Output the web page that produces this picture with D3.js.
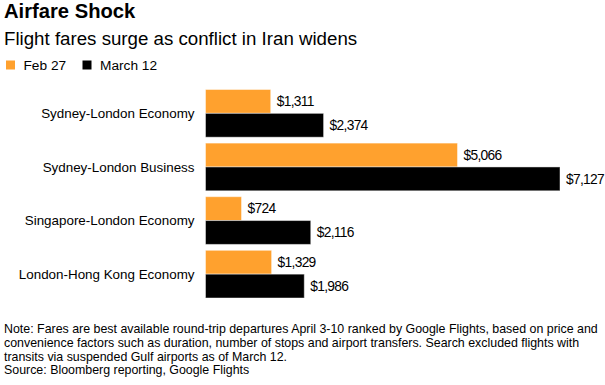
<!DOCTYPE html>
<html>
<head>
<meta charset="utf-8">
<script src="https://cdn.jsdelivr.net/npm/d3@7"></script>
<style>
  html, body { margin: 0; padding: 0; background: #fff; }
  svg { display: block; font-family: "Liberation Sans", Arial, sans-serif; }
</style>
</head>
<body>
<svg id="chart" width="605" height="385"></svg>
<script>
const categories = ["Sydney-London Economy", "Sydney-London Business", "Singapore-London Economy", "London-Hong Kong Economy"];
const seriesNames = ["Feb 27", "March 12"];
const feb27 = [1311, 5066, 724, 1329];
const march12 = [2374, 7127, 2116, 1986];
const colors = ["#ffa12e", "#000000"];
const title = "Airfare Shock";
const subtitle = "Flight fares surge as conflict in Iran widens";
const noteLines = [
  "Note: Fares are best available round-trip departures April 3-10 ranked by Google Flights, based on price and",
  "convenience factors such as duration, number of stops and airport transfers. Search excluded flights with",
  "transits via suspended Gulf airports as of March 12.",
  "Source: Bloomberg reporting, Google Flights"
];

const seriesValues = [feb27, march12];
const svg = d3.select("#chart");

svg.append("text").attr("x", 4).attr("y", 17.5)
  .attr("font-size", 20.2).attr("font-weight", "bold").attr("fill", "#000").text(title);
svg.append("text").attr("x", 4).attr("y", 45)
  .attr("font-size", 18.7).attr("fill", "#000").text(subtitle);

// legend
const legendX = [6, 82.5];
const legendG = svg.append("g");
seriesNames.forEach((s, i) => {
  legendG.append("rect").attr("x", legendX[i]).attr("y", 60.5).attr("width", 9).attr("height", 9)
    .attr("fill", colors[i]);
  legendG.append("text").attr("x", legendX[i] + 17.5).attr("y", 69.5)
    .attr("font-size", 13.7).attr("fill", "#000").text(s);
});

const x = d3.scaleLinear().domain([0, d3.max(march12)]).range([205.5, 560]);
const y0 = d3.scaleBand().domain(categories).range([89.5, 298]).paddingInner(0.11).paddingOuter(0);
const y1 = d3.scaleBand().domain(seriesNames).range([0, y0.bandwidth()]).padding(0);

const groups = svg.append("g").selectAll("g").data(categories).join("g")
  .attr("transform", d => `translate(0,${y0(d)})`);

groups.append("text")
  .attr("x", 194.5)
  .attr("y", y0.bandwidth() / 2 + 4.6)
  .attr("text-anchor", "end")
  .attr("font-size", 13.4)
  .attr("fill", "#000")
  .text(d => d);

groups.each(function(cat, ci) {
  const g = d3.select(this);
  seriesNames.forEach((s, si) => {
    const v = seriesValues[si][ci];
    g.append("rect")
      .attr("x", x(0))
      .attr("y", y1(s))
      .attr("width", x(v) - x(0))
      .attr("height", y1.bandwidth())
      .attr("fill", colors[si])
      .attr("stroke", "rgba(255,255,255,0.45)")
      .attr("stroke-width", 1);
    g.append("text")
      .attr("x", x(v) + 6)
      .attr("y", y1(s) + y1.bandwidth() / 2 + 4.8)
      .attr("font-size", 13.8)
      .attr("letter-spacing", "-0.7px")
      .attr("fill", "#000")
      .text("$" + d3.format(",")(v));
  });
});

// footnote
const foot = svg.append("g");
noteLines.forEach((line, i) => {
  foot.append("text").attr("x", 4).attr("y", 333.3 + i * 13.7)
    .attr("font-size", 12.4).attr("fill", "#000").text(line);
});
</script>
</body>
</html>
